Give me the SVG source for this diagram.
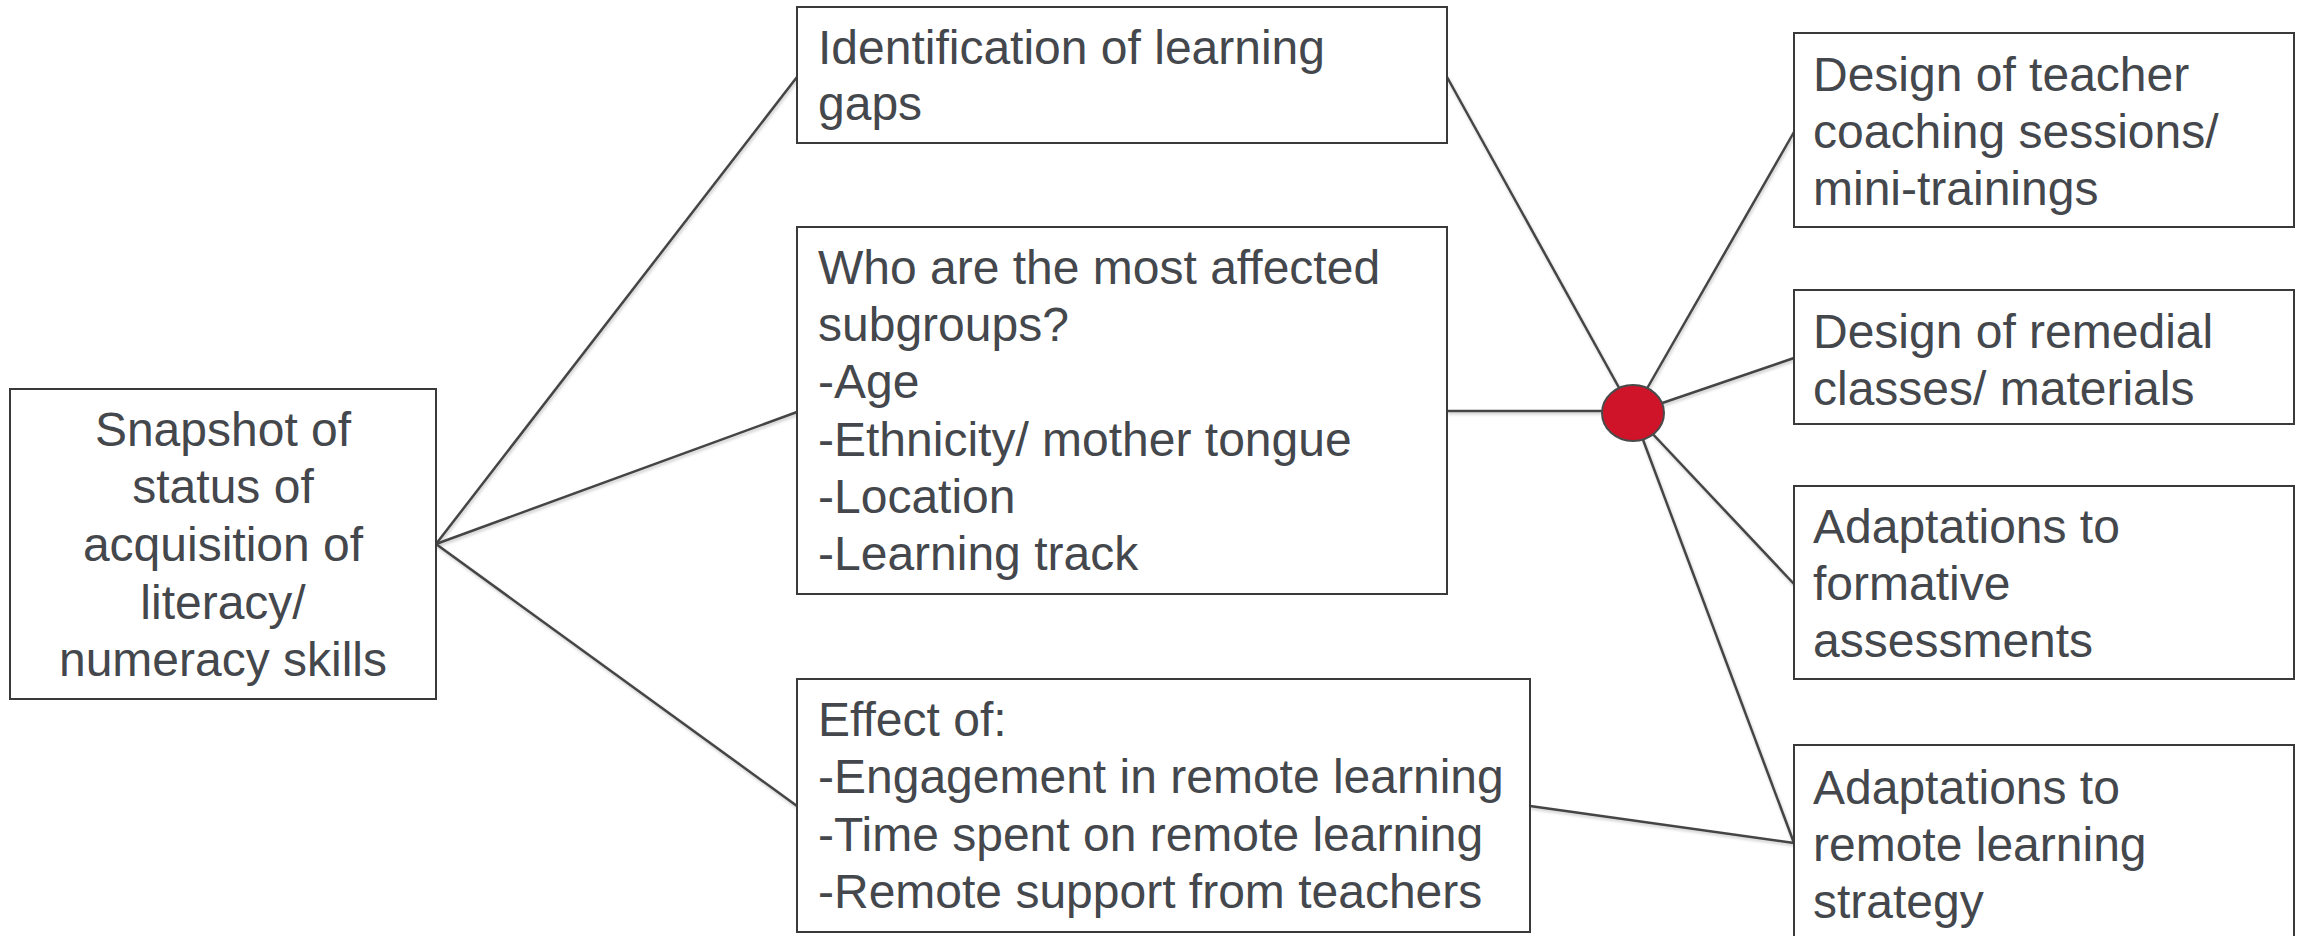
<svg xmlns="http://www.w3.org/2000/svg" width="2302" height="936" viewBox="0 0 2302 936">
  <defs>
    <filter id="soft" x="-5%" y="-5%" width="110%" height="110%">
      <feDropShadow dx="1" dy="2" stdDeviation="1.5" flood-color="#000" flood-opacity="0.22"/>
    </filter>
  </defs>
  <style>
    .box { fill: #ffffff; stroke: #3a3a3a; stroke-width: 2; }
    .lbl { font-family: "Liberation Sans", Arial, sans-serif; font-size: 48px; fill: #44474c; }
    .ctr { text-anchor: middle; }
    .wire { stroke: #454545; stroke-width: 2.5; fill: none; }
    .hub { fill: #cf1429; stroke: #4a4a4a; stroke-width: 2; }
  </style>

  <rect width="2302" height="936" fill="#ffffff"/>

  <!-- connectors -->
  <g id="connectors" filter="url(#soft)">
    <line class="wire" x1="436" y1="544" x2="797" y2="77"/>
    <line class="wire" x1="436" y1="544" x2="797" y2="412"/>
    <line class="wire" x1="436" y1="544" x2="797" y2="806"/>
    <line class="wire" x1="1447" y1="77" x2="1633" y2="413"/>
    <line class="wire" x1="1447" y1="411" x2="1633" y2="411"/>
    <line class="wire" x1="1633" y1="413" x2="1794" y2="132"/>
    <line class="wire" x1="1633" y1="413" x2="1794" y2="358"/>
    <line class="wire" x1="1633" y1="413" x2="1794" y2="584"/>
    <line class="wire" x1="1633" y1="413" x2="1794" y2="843"/>
    <line class="wire" x1="1530" y1="806" x2="1794" y2="843"/>
  </g>

  <!-- hub -->
  <g id="hub">
    <ellipse class="hub" cx="1633" cy="413" rx="31" ry="28"/>
  </g>

  <!-- source -->
  <g id="snapshot">
    <rect class="box" x="10" y="389" width="426" height="310"/>
    <text class="lbl ctr" x="223" y="446">Snapshot of</text>
    <text class="lbl ctr" x="223" y="503">status of</text>
    <text class="lbl ctr" x="223" y="561">acquisition of</text>
    <text class="lbl ctr" x="223" y="619">literacy/</text>
    <text class="lbl ctr" x="223" y="676">numeracy skills</text>
  </g>

  <!-- analyses -->
  <g id="gaps">
    <rect class="box" x="797" y="7" width="650" height="136"/>
    <text class="lbl" x="818" y="64">Identification of learning</text>
    <text class="lbl" x="818" y="120">gaps</text>
  </g>

  <g id="subgroups">
    <rect class="box" x="797" y="227" width="650" height="367"/>
    <text class="lbl" x="818" y="284">Who are the most affected</text>
    <text class="lbl" x="818" y="341">subgroups?</text>
    <text class="lbl" x="818" y="398">-Age</text>
    <text class="lbl" x="818" y="456">-Ethnicity/ mother tongue</text>
    <text class="lbl" x="818" y="513">-Location</text>
    <text class="lbl" x="818" y="570">-Learning track</text>
  </g>

  <g id="effects">
    <rect class="box" x="797" y="679" width="733" height="253"/>
    <text class="lbl" x="818" y="736">Effect of:</text>
    <text class="lbl" x="818" y="793">-Engagement in remote learning</text>
    <text class="lbl" x="818" y="851">-Time spent on remote learning</text>
    <text class="lbl" x="818" y="908">-Remote support from teachers</text>
  </g>

  <!-- responses -->
  <g id="coaching">
    <rect class="box" x="1794" y="33" width="500" height="194"/>
    <text class="lbl" x="1813" y="91">Design of teacher</text>
    <text class="lbl" x="1813" y="148">coaching sessions/</text>
    <text class="lbl" x="1813" y="205">mini-trainings</text>
  </g>

  <g id="remedial">
    <rect class="box" x="1794" y="290" width="500" height="134"/>
    <text class="lbl" x="1813" y="348">Design of remedial</text>
    <text class="lbl" x="1813" y="405">classes/ materials</text>
  </g>

  <g id="formative">
    <rect class="box" x="1794" y="486" width="500" height="193"/>
    <text class="lbl" x="1813" y="543">Adaptations to</text>
    <text class="lbl" x="1813" y="600">formative</text>
    <text class="lbl" x="1813" y="657">assessments</text>
  </g>

  <g id="remote">
    <rect class="box" x="1794" y="745" width="500" height="210"/>
    <text class="lbl" x="1813" y="804">Adaptations to</text>
    <text class="lbl" x="1813" y="861">remote learning</text>
    <text class="lbl" x="1813" y="918">strategy</text>
  </g>
</svg>
